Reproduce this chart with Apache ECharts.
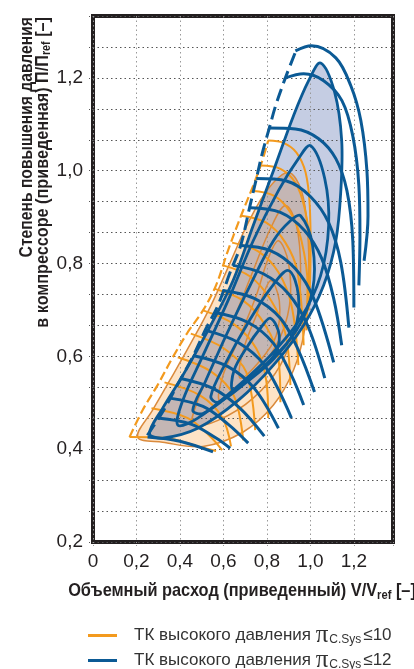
<!DOCTYPE html>
<html lang="ru">
<head>
<meta charset="UTF-8">
<title>Компрессорная карта ТК высокого давления</title>
<script src="https://cdn.jsdelivr.net/npm/echarts@6/dist/echarts.min.js"></script>
</head>
<body style="margin:0;background:#fff;">
<div id="main" style="width:414px;height:669px;"></div>
<script>
// линия помпажа (пунктир)
const blueSurge = [[0.25,0.43],[0.32,0.48],[0.39,0.54],[0.46,0.60],[0.52,0.66],[0.575,0.71],[0.63,0.78],[0.68,0.84],[0.72,0.92],[0.75,0.98],[0.78,1.04],[0.81,1.09],[0.84,1.14],[0.885,1.20],[0.935,1.26]];
const orangeSurge = [[0.168,0.426],[0.228,0.484],[0.297,0.538],[0.367,0.598],[0.436,0.652],[0.506,0.699],[0.566,0.753],[0.621,0.828],[0.681,0.903],[0.737,0.968],[0.774,1.015],[0.806,1.065]];

// линии постоянной частоты вращения
const blueSpeed = [
  [[0.931,1.258],[1.005,1.269],[1.117,1.243],[1.186,1.183],[1.232,1.108],[1.26,1.0],[1.265,0.903],[1.247,0.806]],
  [[0.885,1.2],[0.969,1.209],[1.061,1.194],[1.145,1.151],[1.195,1.075],[1.223,0.968],[1.228,0.86],[1.223,0.753]],
  [[0.806,1.092],[0.931,1.09],[1.038,1.069],[1.117,1.026],[1.168,0.957],[1.195,0.849],[1.2,0.705]],
  [[0.751,0.983],[0.89,0.978],[1.001,0.944],[1.084,0.888],[1.14,0.802],[1.177,0.662]],
  [[0.723,0.92],[0.862,0.91],[0.973,0.871],[1.052,0.811],[1.107,0.725],[1.144,0.624]],
  [[0.677,0.839],[0.816,0.828],[0.931,0.789],[1.015,0.725],[1.107,0.587]],
  [[0.644,0.796],[0.783,0.778],[0.899,0.735],[0.987,0.667],[1.066,0.553]],
  [[0.598,0.742],[0.742,0.725],[0.862,0.682],[0.945,0.613],[1.019,0.523]],
  [[0.556,0.695],[0.714,0.673],[0.83,0.628],[0.913,0.559],[0.969,0.495]],
  [[0.519,0.656],[0.668,0.63],[0.788,0.581],[0.913,0.467]],
  [[0.459,0.602],[0.621,0.578],[0.742,0.531],[0.853,0.445]],
  [[0.399,0.553],[0.552,0.531],[0.677,0.488],[0.788,0.428]],
  [[0.353,0.51],[0.506,0.492],[0.621,0.454],[0.714,0.413]],
  [[0.297,0.467],[0.45,0.454],[0.566,0.424],[0.631,0.402]],
  [[0.251,0.426],[0.399,0.417],[0.552,0.394]]
];
const orangeSpeed = [
  [[0.806,1.065],[0.876,1.06],[0.936,1.039],[0.978,0.996],[0.997,0.925],[1.001,0.828],[0.997,0.742]],
  [[0.769,1.011],[0.862,1.004],[0.931,0.974],[0.973,0.92],[0.997,0.839],[0.992,0.699]],
  [[0.728,0.957],[0.834,0.946],[0.908,0.91],[0.959,0.849],[0.987,0.753],[0.982,0.656]],
  [[0.681,0.903],[0.797,0.888],[0.885,0.845],[0.941,0.781],[0.969,0.624]],
  [[0.64,0.845],[0.76,0.826],[0.853,0.781],[0.913,0.71],[0.945,0.581]],
  [[0.598,0.796],[0.723,0.772],[0.82,0.72],[0.885,0.649],[0.908,0.538]],
  [[0.556,0.746],[0.691,0.72],[0.793,0.667],[0.853,0.596],[0.862,0.501]],
  [[0.506,0.699],[0.649,0.669],[0.751,0.617],[0.797,0.548],[0.806,0.467]],
  [[0.45,0.649],[0.603,0.617],[0.705,0.566],[0.746,0.441]],
  [[0.39,0.598],[0.547,0.566],[0.649,0.514],[0.691,0.419]],
  [[0.329,0.544],[0.492,0.516],[0.594,0.469],[0.635,0.406]],
  [[0.269,0.488],[0.436,0.467],[0.538,0.428],[0.594,0.398]],
  [[0.168,0.426],[0.334,0.424],[0.482,0.406],[0.566,0.396]]
];

// линии КПД (замкнутые), первая - граница закрашенной области
const blueEff = [
  [[1.047,1.232],[1.112,1.168],[1.144,1.065],[1.14,0.957],[1.117,0.849],[1.061,0.753],[0.969,0.667],[0.83,0.581],[0.668,0.505],[0.482,0.445],[0.32,0.424],[0.26,0.434],[0.32,0.488],[0.413,0.559],[0.529,0.656],[0.644,0.763],[0.737,0.882],[0.83,1.0],[0.922,1.118],[0.992,1.194]],
  [[1.001,1.054],[1.066,0.983],[1.084,0.882],[1.047,0.774],[0.955,0.682],[0.816,0.602],[0.644,0.527],[0.482,0.467],[0.39,0.452],[0.413,0.505],[0.506,0.602],[0.621,0.72],[0.737,0.849],[0.853,0.957],[0.945,1.026]],
  [[0.955,0.903],[1.01,0.839],[1.01,0.742],[0.936,0.656],[0.806,0.587],[0.644,0.523],[0.506,0.477],[0.459,0.484],[0.519,0.548],[0.612,0.645],[0.723,0.753],[0.83,0.849],[0.908,0.892]],
  [[0.899,0.785],[0.945,0.731],[0.927,0.656],[0.834,0.596],[0.705,0.544],[0.575,0.501],[0.542,0.514],[0.612,0.587],[0.714,0.673],[0.816,0.746]],
  [[0.816,0.682],[0.857,0.645],[0.83,0.6],[0.737,0.559],[0.644,0.527],[0.649,0.57],[0.714,0.624],[0.769,0.66]]
];
const orangeEff = [
  [[0.899,0.996],[0.959,0.957],[0.987,0.871],[0.992,0.763],[0.973,0.656],[0.922,0.57],[0.83,0.495],[0.691,0.437],[0.506,0.406],[0.32,0.415],[0.205,0.426],[0.274,0.484],[0.353,0.548],[0.445,0.624],[0.543,0.71],[0.631,0.802],[0.714,0.888],[0.806,0.961]],
  [[0.885,0.925],[0.936,0.882],[0.955,0.785],[0.936,0.677],[0.862,0.581],[0.737,0.51],[0.575,0.462],[0.459,0.452],[0.482,0.505],[0.552,0.581],[0.644,0.677],[0.737,0.785],[0.816,0.875]],
  [[0.853,0.849],[0.899,0.802],[0.904,0.71],[0.843,0.624],[0.723,0.553],[0.584,0.505],[0.598,0.559],[0.668,0.634],[0.751,0.731],[0.806,0.811]],
  [[0.816,0.763],[0.857,0.72],[0.843,0.645],[0.769,0.591],[0.677,0.553],[0.691,0.613],[0.751,0.688]]
];
// общая часть двух областей высокого КПД (серо-коричневая)
const overlapArea = [[0.79,0.95],[0.806,0.961],[0.899,0.996],[0.959,0.957],[0.987,0.871],[0.992,0.763],[0.98,0.69],[0.969,0.667],[0.83,0.581],[0.668,0.505],[0.482,0.445],[0.32,0.424],[0.26,0.434],[0.32,0.488],[0.413,0.559],[0.529,0.656],[0.644,0.763],[0.737,0.882]];

const BLUE = '#0b5a95';
const ORANGE = '#f39a1e';
const ORANGE_EFF = '#da8a3c';
const FONT = '"Liberation Sans", Arial, sans-serif';

const chart = echarts.init(document.getElementById('main'));

function loop(pts, o) {
  return {
    type: 'custom', coordinateSystem: 'cartesian2d', silent: true,
    z: o.z, data: pts,
    renderItem: function (params, api) {
      if (params.dataIndex !== 0) return null;
      return {
        type: 'polygon',
        shape: { points: pts.map(p => api.coord(p)), smooth: 0.35 },
        style: { fill: o.fill || 'none', stroke: o.stroke || 'none', lineWidth: o.width || 0 }
      };
    }
  };
}
function curve(name, pts, color, width, z, dash) {
  return {
    name: name, type: 'line', data: pts, smooth: 0.35, showSymbol: false, silent: true,
    color: color, z: z,
    lineStyle: { color: color, width: width, type: dash || 'solid' }
  };
}

const series = [];
// заливки
series.push(loop(blueEff[0], { fill: '#c5cde3', z: -1 }));
series.push(loop(orangeEff[0], { fill: '#fde3c6', z: -1 }));
series.push(loop(overlapArea, { fill: '#c4b6b4', z: -1 }));
// оранжевая карта
orangeEff.forEach(p => series.push(loop(p, { stroke: ORANGE_EFF, width: 1.5, z: 2 })));
orangeSpeed.forEach(p => series.push(curve('p10', p, ORANGE, 2, 3)));
series.push(curve('p10', orangeSurge, ORANGE, 2.2, 3, [9, 4]));
// синяя карта
blueEff.forEach(p => series.push(loop(p, { stroke: BLUE, width: 2.8, z: 4 })));
blueSpeed.forEach(p => series.push(curve('p12', p, BLUE, 3, 5)));
series.push(curve('p12', blueSurge, BLUE, 3, 5, [13, 6]));

const isMajor = v => Math.abs(v * 5 - Math.round(v * 5)) < 1e-3;
const fmt = v => v === 0 ? '0' : v.toFixed(1).replace('.', ',');

chart.setOption({
  backgroundColor: '#fff',
  animation: false,
  grid: { left: 93, right: 21, top: 16, bottom: 127, show: true, borderColor: '#231f20', borderWidth: 4 },
  xAxis: {
    type: 'value', min: 0, max: 1.38, interval: 0.2,
    axisLine: { show: false },
    axisTick: { show: true, length: 5, lineStyle: { color: '#999', type: [1, 2] } },
    axisLabel: { fontFamily: FONT, fontSize: 19, color: '#231f20', margin: 10,
      formatter: v => isMajor(v) ? fmt(v) : '' },
    splitLine: { show: true, lineStyle: { color: '#999', width: 1, type: [1.5, 3] } }
  },
  yAxis: {
    type: 'value', min: 0.2, max: 4 / 3, interval: 1 / 15,
    axisLine: { show: false },
    axisTick: { show: true, length: 5, lineStyle: { color: '#555', type: [1, 2] } },
    axisLabel: { fontFamily: FONT, fontSize: 19, color: '#231f20', margin: 10,
      formatter: v => isMajor(v) ? fmt(v) : '' },
    splitLine: { show: true, lineStyle: { color: '#555', width: 1, type: [1.5, 3] } }
  },
  legend: {
    orient: 'vertical', left: 88, top: 623, width: 326, height: 90, padding: 0, itemGap: 0,
    itemWidth: 29, itemHeight: 3, icon: 'rect',
    data: ['p10', 'p12'],
    formatter: name => '{g|}ТК высокого давления {pi|π}{s|C.Sys}{t|≤' + (name === 'p10' ? '10' : '12') + '}',
    textStyle: {
      fontFamily: FONT, fontSize: 17, color: '#333', lineHeight: 20,
      rich: {
        g: { width: 12, lineHeight: 20 },
        pi: { fontFamily: '"Liberation Serif", serif', fontSize: 25, color: '#333', lineHeight: 20 },
        s: { fontFamily: FONT, fontSize: 12, color: '#333', verticalAlign: 'bottom', lineHeight: 20, padding: [0, 2, 0, 1] },
        t: { fontFamily: FONT, fontSize: 17, color: '#333', lineHeight: 20 }
      }
    }
  },
  graphic: [
    {
      type: 'text', x: 27, y: 17, rotation: Math.PI / 2, scaleX: 0.87,
      style: { text: 'Степень повышения давления', font: 'bold 18px ' + FONT, fill: '#231f20', align: 'right', verticalAlign: 'middle' }
    },
    {
      type: 'text', x: 43, y: 17, rotation: Math.PI / 2, scaleX: 0.9,
      style: {
        text: '{a|в компрессоре (приведенная) П/П}{s|ref}{a| [–]}', align: 'right', verticalAlign: 'middle',
        rich: {
          a: { font: 'bold 18px ' + FONT, fill: '#231f20', lineHeight: 20 },
          s: { font: 'bold 12px ' + FONT, fill: '#231f20', verticalAlign: 'bottom', lineHeight: 20 }
        }
      }
    },
    {
      type: 'text', x: 242, y: 591, scaleX: 0.86,
      style: {
        text: '{a|Объемный расход (приведенный) V/V}{s|ref}{a| [–]}', align: 'center', verticalAlign: 'middle',
        rich: {
          a: { font: 'bold 19px ' + FONT, fill: '#231f20', lineHeight: 22 },
          s: { font: 'bold 13px ' + FONT, fill: '#231f20', verticalAlign: 'bottom', lineHeight: 22 }
        }
      }
    }
  ],
  series: series
});
</script>
</body>
</html>
